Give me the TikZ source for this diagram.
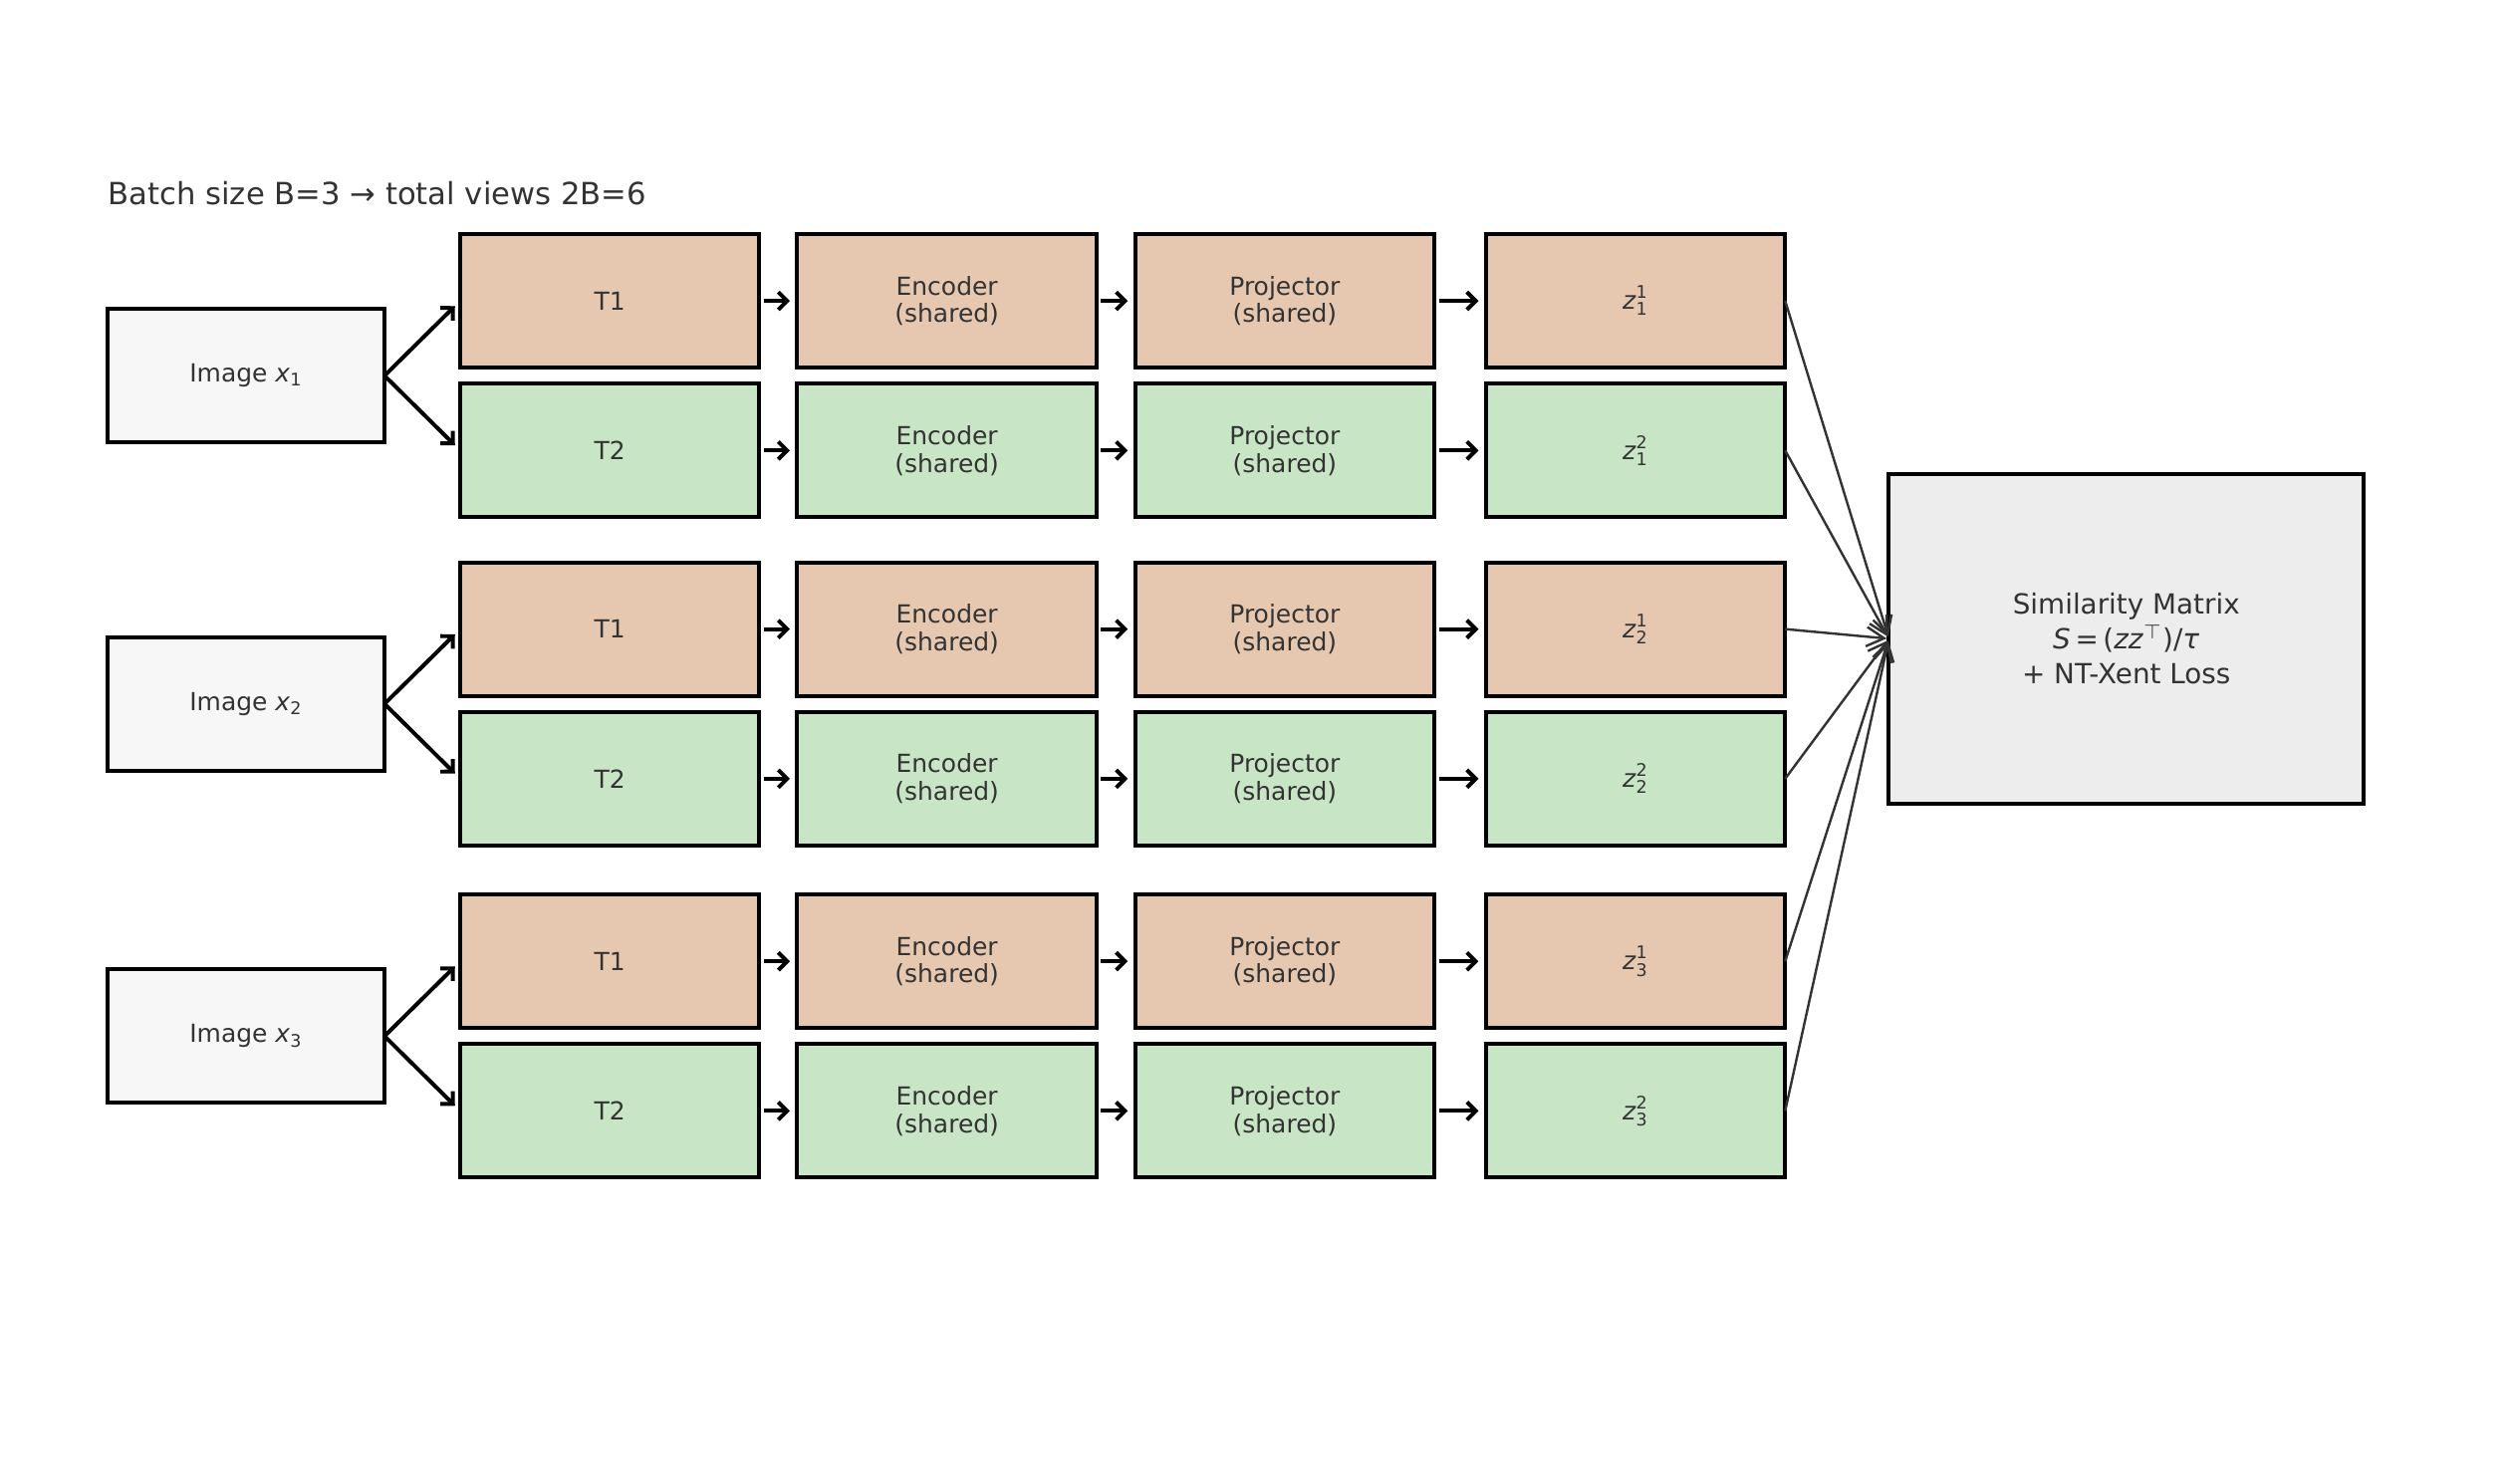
\documentclass[tikz,border=0pt]{standalone}
\usepackage{amsmath}
\usepackage{fontspec}
\setmainfont{DejaVu Sans}
\usepackage{tikz}
\usetikzlibrary{arrows.meta}
\usetikzlibrary{positioning}

\definecolor{viewone}{HTML}{E6C8B0}
\definecolor{viewtwo}{HTML}{C8E6C5}
\definecolor{imgfill}{HTML}{F7F7F7}
\definecolor{simfill}{HTML}{EDEDED}
\definecolor{txt}{HTML}{333333}

\newcommand{\zview}[2]{\textit{z}$^{\text{#2}}_{\text{#1}}$}

\begin{document}
\begin{tikzpicture}[
    box/.style={draw=black, line width=1.4pt, minimum width=3.72cm, minimum height=1.66cm,
        inner sep=0pt, outer sep=0pt, align=center, text=txt, font=\fontsize{8.8}{9.8}\selectfont},
    imgbox/.style={box, fill=imgfill, minimum width=3.44cm},
    view1/.style={box, fill=viewone},
    view2/.style={box, fill=viewtwo},
    simbox/.style={box, fill=simfill, minimum width=5.9cm, minimum height=4.1cm,
        font=\fontsize{9.8}{12.4}\selectfont},
    flow/.style={-{Straight Barb[length=1.1mm,width=2.2mm]}, line width=1.4pt,
        shorten <=1.6pt, shorten >=2.6pt},
    merge/.style={-{Straight Barb[length=2.2mm,width=2.4mm]}, line width=0.85pt, color=txt,
        shorten >=0.8pt}
]
    \useasboundingbox (0,0) rectangle (31.2,-18.44);
    \node [anchor=west, text=txt, font=\fontsize{10.8}{12}\selectfont] (title) at (1.22,-2.4)
        {Batch size B=3 → total views 2B=6};

    % one row pair per image
    \foreach \i/\y in {1/-3.74, 2/-7.82, 3/-11.95} {
        \node [view1] (t\i1) at (7.58,\y) {T1};
        \node [view2] (t\i2) [below=0.2cm of t\i1] {T2};
        \path (t\i1.south west) -- (t\i2.north west) coordinate [midway] (m\i);
        \node [imgbox] (x\i) [left=0.94cm of m\i] {Image \textit{x}\textsubscript{\i}};
        \node [view1] (e\i1) [right=0.47cm of t\i1] {Encoder\\(shared)};
        \node [view2] (e\i2) [right=0.47cm of t\i2] {Encoder\\(shared)};
        \node [view1] (p\i1) [right=0.48cm of e\i1] {Projector\\(shared)};
        \node [view2] (p\i2) [right=0.48cm of e\i2] {Projector\\(shared)};
        \node [view1] (z\i1) [right=0.64cm of p\i1] {\zview{\i}{1}};
        \node [view2] (z\i2) [right=0.64cm of p\i2] {\zview{\i}{2}};
        \path [flow]
            (x\i.east) edge [shorten <=0pt] (t\i1.west)
            (x\i.east) edge [shorten <=0pt] (t\i2.west)
            (t\i1) edge (e\i1)
            (t\i2) edge (e\i2)
            (e\i1) edge (p\i1)
            (e\i2) edge (p\i2)
            (p\i1) edge (z\i1)
            (p\i2) edge (z\i2);
    }

    \node [simbox] (sim) at (26.43,-7.94)
        {Similarity Matrix\\\textit{S}\,=\,(\textit{zz}$^{\top}$)/\textit{τ}\\+ NT-Xent Loss};

    \foreach \i in {1,2,3} {
        \path [merge]
            (z\i1.east) edge (sim.west)
            (z\i2.east) edge (sim.west);
    }
\end{tikzpicture}
\end{document}
